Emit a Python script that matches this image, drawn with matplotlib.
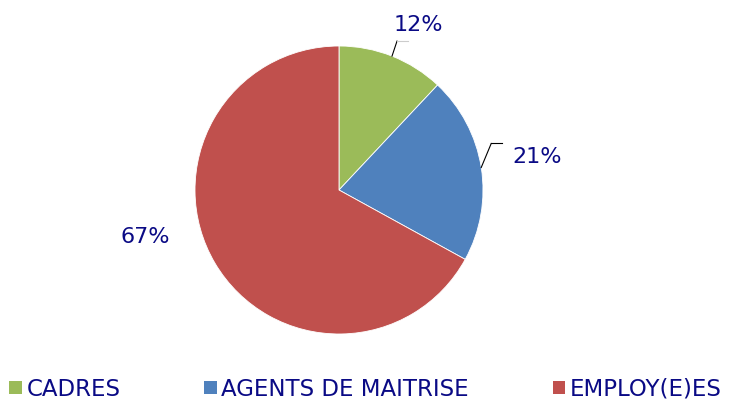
import numpy as np
import matplotlib.pyplot as plt
from matplotlib.patches import Patch
from matplotlib.lines import Line2D
from matplotlib.transforms import IdentityTransform

categories = ['CADRES', 'AGENTS DE MAITRISE', 'EMPLOY(E)ES']
values = [12, 21, 67]
colors = ['#9BBB59', '#4F81BD', '#C0504D']
text_color = '#0A0A85'

fig = plt.figure(figsize=(7.29, 4.03), dpi=100)
# pie centre ~ (339, 190) px, radius ~144 px
ax = fig.add_axes([195 / 729, 69 / 403, 288 / 729, 288 / 403])
wedges, _ = ax.pie(values, colors=colors, startangle=90, counterclock=False,
                   radius=1, wedgeprops=dict(edgecolor='white', linewidth=0.6))
ax.set_xlim(-1, 1)
ax.set_ylim(-1, 1)
ax.set_aspect('equal')
ax.axis('off')

# leader lines for the two small slices: up from the wedge edge, then a short flat tick
leader_offsets = [(5, 15), (10, 24)]   # pixels
tick_colors = ['#cccccc', 'black']
for w, (dx, dy), tc in zip(wedges[:2], leader_offsets, tick_colors):
    ang = np.deg2rad((w.theta1 + w.theta2) / 2)
    px, py = ax.transData.transform((np.cos(ang), np.sin(ang)))
    fig.add_artist(Line2D([px, px + dx], [py, py + dy], color='black', lw=0.8,
                          transform=IdentityTransform()))
    fig.add_artist(Line2D([px + dx, px + dx + 11], [py + dy, py + dy], color=tc, lw=0.8,
                          transform=IdentityTransform()))

fig.text(418 / 729, 1 - 25 / 403, '12%', color=text_color, fontsize=16,
         ha='center', va='center')
fig.text(537 / 729, 1 - 157 / 403, '21%', color=text_color, fontsize=16,
         ha='center', va='center')
fig.text(145 / 729, 1 - 237 / 403, '67%', color=text_color, fontsize=16,
         ha='center', va='center')

handles = [Patch(facecolor=c, edgecolor='none') for c in colors]
leg = fig.legend(handles, categories, loc='lower left', bbox_to_anchor=(-0.006, -0.028),
                 ncol=3, frameon=False, fontsize=16.5, handlelength=0.55,
                 handleheight=0.55, handletextpad=0.2, columnspacing=3.65,
                 borderaxespad=0.2)
for t in leg.get_texts():
    t.set_color(text_color)

fig.savefig('out.png', dpi=100)
